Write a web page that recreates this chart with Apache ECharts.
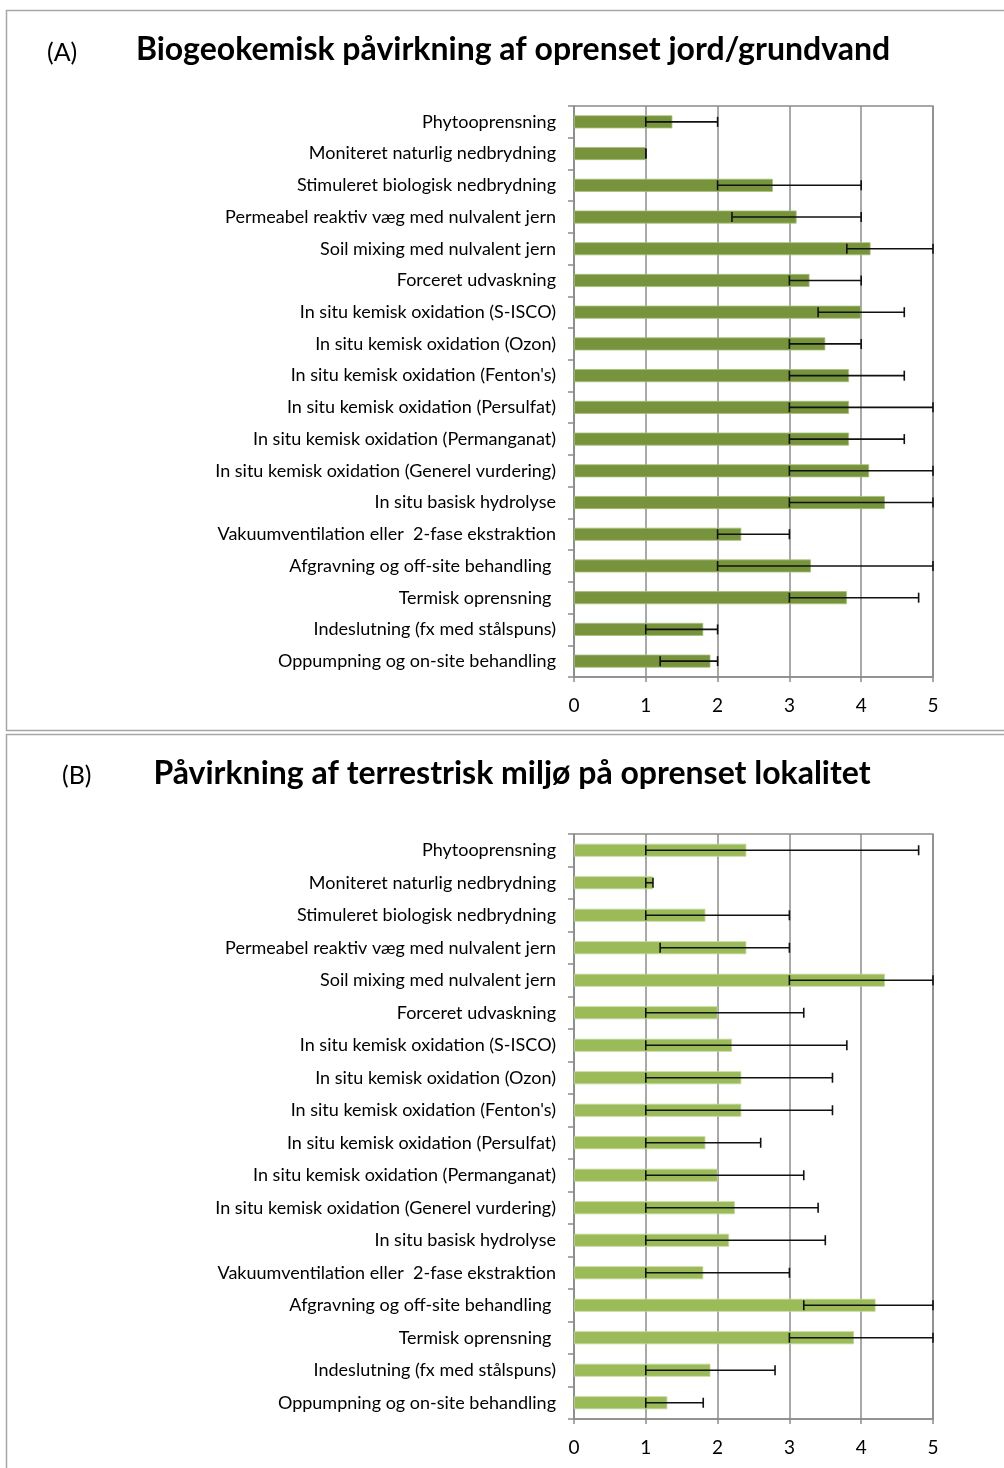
<!DOCTYPE html>
<html>
<head>
<meta charset="utf-8">
<script src="https://cdn.jsdelivr.net/npm/echarts@6/dist/echarts.min.js"></script>
<style>
  html, body { margin: 0; padding: 0; background: #fff; }
  #chart { width: 1004px; height: 1468px; }
</style>
</head>
<body>
<div id="chart"></div>
<script>
  // kategorier (ovenfra og ned)
  var categories = [
    'Phytooprensning',
    'Moniteret naturlig nedbrydning',
    'Stimuleret biologisk nedbrydning',
    'Permeabel reaktiv væg med nulvalent jern',
    'Soil mixing med nulvalent jern',
    'Forceret udvaskning',
    'In situ kemisk oxidation (S-ISCO)',
    'In situ kemisk oxidation (Ozon)',
    "In situ kemisk oxidation (Fenton's)",
    'In situ kemisk oxidation (Persulfat)',
    'In situ kemisk oxidation (Permanganat)',
    'In situ kemisk oxidation (Generel vurdering)',
    'In situ basisk hydrolyse',
    'Vakuumventilation eller  2-fase ekstraktion',
    'Afgravning og off-site behandling ',
    'Termisk oprensning ',
    'Indeslutning (fx med stålspuns)',
    'Oppumpning og on-site behandling'
  ];
  var xTicks = [0, 1, 2, 3, 4, 5];

  /* (A) biogeokemisk påvirkning */
  var valuesA = [1.37, 1.0, 2.77, 3.1, 4.13, 3.28, 4.0, 3.5, 3.83, 3.83, 3.83, 4.11, 4.33, 2.33, 3.3, 3.8, 1.8, 1.9];
  var lowA    = [1.0, 1.0, 2.0, 2.2, 3.8, 3.0, 3.4, 3.0, 3.0, 3.0, 3.0, 3.0, 3.0, 2.0, 2.0, 3.0, 1.0, 1.2];
  var highA   = [2.0, 1.0, 4.0, 4.0, 5.0, 4.0, 4.6, 4.0, 4.6, 5.0, 4.6, 5.0, 5.0, 3.0, 5.0, 4.8, 2.0, 2.0];

  /* (B) terrestrisk miljø */
  var valuesB = [2.4, 1.1, 1.83, 2.4, 4.33, 2.0, 2.2, 2.33, 2.33, 1.83, 2.0, 2.24, 2.16, 1.8, 4.2, 3.9, 1.9, 1.3];
  var lowB    = [1.0, 1.0, 1.0, 1.2, 3.0, 1.0, 1.0, 1.0, 1.0, 1.0, 1.0, 1.0, 1.0, 1.0, 3.2, 3.0, 1.0, 1.0];
  var highB   = [4.8, 1.1, 3.0, 3.0, 5.0, 3.2, 3.8, 3.6, 3.6, 2.6, 3.2, 3.4, 3.5, 3.0, 5.0, 5.0, 2.8, 1.8];

  var FONT = 'Lato, "Open Sans", sans-serif';
  var axisGrey = '#8c8c8c';

  var chart = echarts.init(document.getElementById('chart'));

  function errData(low, high) {
    return low.map(function (l, i) { return [i, l, high[i]]; });
  }

  function renderErr(params, api) {
    var i = api.value(0);
    var p1 = api.coord([api.value(1), i]);
    var p2 = api.coord([api.value(2), i]);
    var cap = 5;
    var st = { stroke: '#111', lineWidth: 1.6 };
    return {
      type: 'group',
      children: [
        { type: 'line', shape: { x1: p1[0], y1: p1[1], x2: p2[0], y2: p2[1] }, style: st },
        { type: 'line', shape: { x1: p1[0], y1: p1[1] - cap, x2: p1[0], y2: p1[1] + cap }, style: st },
        { type: 'line', shape: { x1: p2[0], y1: p2[1] - cap, x2: p2[0], y2: p2[1] + cap }, style: st }
      ]
    };
  }

  function xAxisOf(gi) {
    return {
      gridIndex: gi, type: 'value', min: xTicks[0], max: xTicks[xTicks.length - 1], interval: 1,
      axisLine: { show: true, lineStyle: { color: axisGrey, width: 1.5 } },
      axisTick: { show: true, length: 5, lineStyle: { color: axisGrey, width: 1.5 } },
      axisLabel: { color: '#000', fontFamily: FONT, fontSize: 19, margin: 19 },
      splitLine: { show: true, lineStyle: { color: axisGrey, width: 1.5 } }
    };
  }
  function yAxisOf(gi) {
    return {
      gridIndex: gi, type: 'category', data: categories, inverse: true,
      axisLine: { show: true, lineStyle: { color: axisGrey, width: 1.5 } },
      axisTick: { show: true, length: 6, lineStyle: { color: axisGrey, width: 1.5 } },
      axisLabel: { color: '#000', fontFamily: FONT, fontSize: 18, margin: 18, interval: 0 }
    };
  }

  var option = {
    animation: false,
    backgroundColor: '#fff',
    graphic: [
      { type: 'rect', shape: { x: 6.5, y: 10.5, width: 1010, height: 720 }, style: { fill: 'none', stroke: '#a6a6a6', lineWidth: 1.5 } },
      { type: 'rect', shape: { x: 6.5, y: 734.5, width: 1010, height: 800 }, style: { fill: 'none', stroke: '#a6a6a6', lineWidth: 1.5 } },
      { type: 'text', x: 47, y: 53, style: { text: '(A)', font: '25px ' + FONT, fill: '#000', verticalAlign: 'middle' } },
      { type: 'text', x: 62, y: 776, style: { text: '(B)', font: '25px ' + FONT, fill: '#000', verticalAlign: 'middle' } }
    ],
    title: [
      { text: 'Biogeokemisk påvirkning af oprenset jord/grundvand', left: 508, top: 29, textAlign: 'center',
        textStyle: { fontFamily: FONT, fontWeight: 'bold', fontSize: 32, color: '#000' } },
      { text: 'Påvirkning af terrestrisk miljø på oprenset lokalitet', left: 507, top: 753, textAlign: 'center',
        textStyle: { fontFamily: FONT, fontWeight: 'bold', fontSize: 32, color: '#000' } }
    ],
    grid: [
      { left: 574, top: 106, width: 359, height: 571, show: true, borderColor: axisGrey, borderWidth: 1.5 },
      { left: 574, top: 834, width: 359, height: 585, show: true, borderColor: axisGrey, borderWidth: 1.5 }
    ],
    xAxis: [xAxisOf(0), xAxisOf(1)],
    yAxis: [yAxisOf(0), yAxisOf(1)],
    series: [
      { type: 'bar', xAxisIndex: 0, yAxisIndex: 0, data: valuesA, barWidth: 13,
        itemStyle: { color: '#77933c', borderColor: '#a6bf7a', borderWidth: 0.8 } },
      { type: 'custom', xAxisIndex: 0, yAxisIndex: 0, data: errData(lowA, highA), renderItem: renderErr,
        encode: { x: [1, 2], y: 0 }, z: 5 },
      { type: 'bar', xAxisIndex: 1, yAxisIndex: 1, data: valuesB, barWidth: 13,
        itemStyle: { color: '#9bbb59', borderColor: '#c3d69b', borderWidth: 0.8 } },
      { type: 'custom', xAxisIndex: 1, yAxisIndex: 1, data: errData(lowB, highB), renderItem: renderErr,
        encode: { x: [1, 2], y: 0 }, z: 5 }
    ]
  };

  chart.setOption(option);
</script>
</body>
</html>
